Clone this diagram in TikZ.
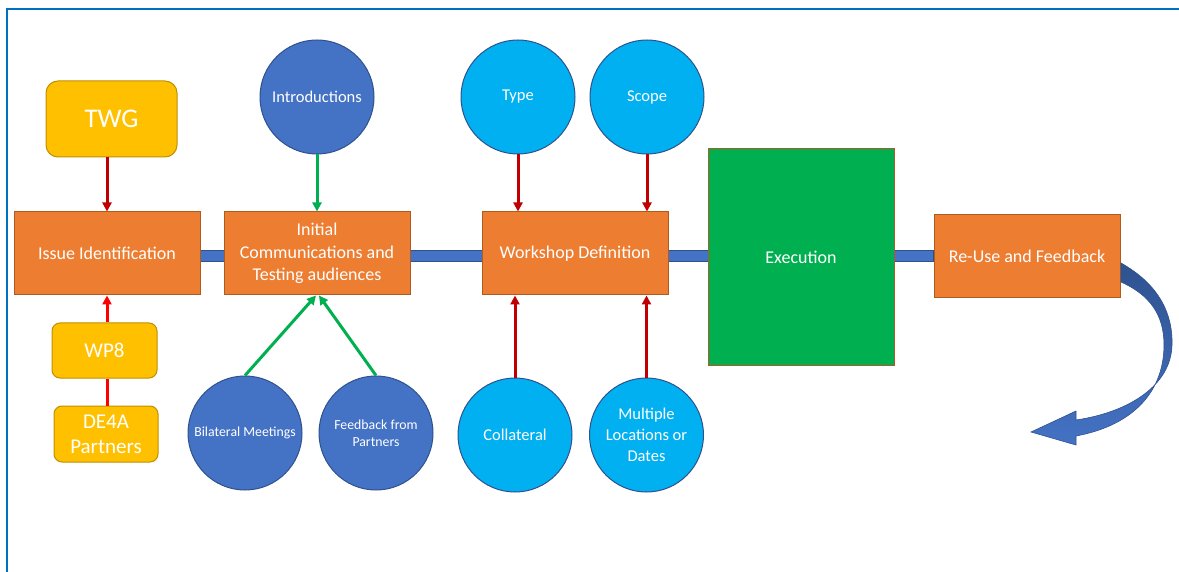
\documentclass[tikz,border=0pt]{standalone}
\usepackage{fontspec}
\setmainfont{Carlito}
\usetikzlibrary{arrows.meta,backgrounds,calc}
\definecolor{procfill}{HTML}{ED7D31}
\definecolor{procline}{HTML}{AE5A21}
\definecolor{goldfill}{HTML}{FFC000}
\definecolor{goldline}{HTML}{BF9000}
\definecolor{navyfill}{HTML}{4472C4}
\definecolor{navyline}{HTML}{2F528F}
\definecolor{skyfill}{HTML}{00B0F0}
\definecolor{execfill}{HTML}{00B050}
\definecolor{darkred}{HTML}{C00000}
\definecolor{brightred}{HTML}{FF0000}
\definecolor{linkgreen}{HTML}{00B050}
\definecolor{framecol}{HTML}{0070C0}
\tikzset{
  procbox/.style={draw=procline, fill=procfill, line width=1pt, text=white,
    minimum width=186pt, minimum height=83pt, inner sep=2pt, align=center,
    font=\fontsize{18}{22.5}\selectfont},
  execbox/.style={procbox, fill=execfill, minimum height=216pt},
  goldbox/.style={draw=goldline, fill=goldfill, line width=1pt, text=white,
    rounded corners=8pt, align=center, inner sep=2pt},
  bigcirc/.style={circle, draw=navyline, line width=1pt, text=white,
    minimum size=114pt, inner sep=1pt, align=center,
    font=\fontsize{16.5}{21}\selectfont},
  navycirc/.style={bigcirc, fill=navyfill},
  skycirc/.style={bigcirc, fill=skyfill},
  link/.style={line width=3pt, -{Triangle[length=9pt,width=9pt]}},
  redlink/.style={link, draw=darkred},
  brightlink/.style={link, draw=brightred},
  greenlink/.style={link, draw=linkgreen},
  bar/.style={fill=navyfill, draw=navyline, line width=0.8pt},
  frame/.style={draw=framecol, line width=2pt}
}
\begin{document}
\begin{tikzpicture}[x=1pt, y=-1pt]
\useasboundingbox (0,0) rectangle (1179,572);

% page frame
\draw[frame] (1179,9) -- (7,9) -- (7,572);

% process steps
\node[procbox] (issue) at (107,253.5) {Issue Identification};
\node[procbox] (init) at (317,253.5) {Initial\\Communications and\\Testing audiences};
\node[procbox] (ws) at (575,253.5) {Workshop Definition};
\node[execbox] (exec) at (801,257) {Execution};
\node[procbox] (reuse) at (1027,256.5) {Re-Use and Feedback};

% white page and backbone bar behind the steps
\begin{scope}[on background layer]
  \fill[white] (0,0) rectangle (1179,572);
  \path[bar] (issue.east |- 0,250.5) rectangle (reuse.west |- 0,261.5);
\end{scope}

% inputs to issue identification
\node[goldbox, rounded corners=12pt, minimum width=131pt, minimum height=76pt,
      font=\fontsize{27}{30}\selectfont] (twg) at (111.5,119) {TWG};
\node[goldbox, minimum width=105pt, minimum height=55pt,
      font=\fontsize{21}{25}\selectfont] (wp8) at (104.5,350.5) {WP8};
\node[goldbox, minimum width=104pt, minimum height=56pt,
      font=\fontsize{21}{25}\selectfont] (de4a) at (106,434) {DE4A\\Partners};

% circles
\node[navycirc] (intro) at (317,97) {Introductions};
\node[navycirc, font=\fontsize{13.8}{17}\selectfont] (bil) at (245,433) {Bilateral Meetings};
\node[navycirc, font=\fontsize{13.8}{17}\selectfont] (fb) at (376,433) {Feedback from\\Partners};
\node[skycirc] (type) at (518,97) {Type};
\node[skycirc] (scope) at (647,97) {Scope};
\node[skycirc] (col) at (515,435) {Collateral};
\node[skycirc] (mult) at (646.5,435) {Multiple\\Locations or\\Dates};

% connectors
\draw[redlink] (twg.south -| issue.north) -- (issue.north);
\draw[brightlink] (wp8.north -| issue.south) -- (issue.south);
\draw[draw=brightred, line width=3pt] (de4a.north -| issue.south) -- (wp8.south -| issue.south);

\draw[greenlink] (intro.south) -- (init.north);
\draw[greenlink] (bil.north) -- ([xshift=-1pt]init.south);
\draw[greenlink] (fb.north) -- ([xshift=2pt]init.south);

\draw[redlink] (type.south) -- (type.south |- ws.north);
\draw[redlink] (scope.south) -- (scope.south |- ws.north);
\draw[redlink] (col.north) -- (col.north |- ws.south);
\draw[redlink] (mult.north) -- (mult.north |- ws.south);

% curved return arrow
\shade[top color=navyline, bottom color=navyfill, draw=navyline, line width=0.6pt]
  (1121,263) .. controls (1160,285) and (1173,315) .. (1172,345)
  .. controls (1171,385) and (1130,412) .. (1076,420)
  -- (1076,411) -- (1031,432) -- (1076,445) -- (1076,436)
  .. controls (1135,425) and (1164,390) .. (1164,345)
  .. controls (1164,315) and (1150,295) .. (1121,282) -- cycle;
\end{tikzpicture}
\end{document}
